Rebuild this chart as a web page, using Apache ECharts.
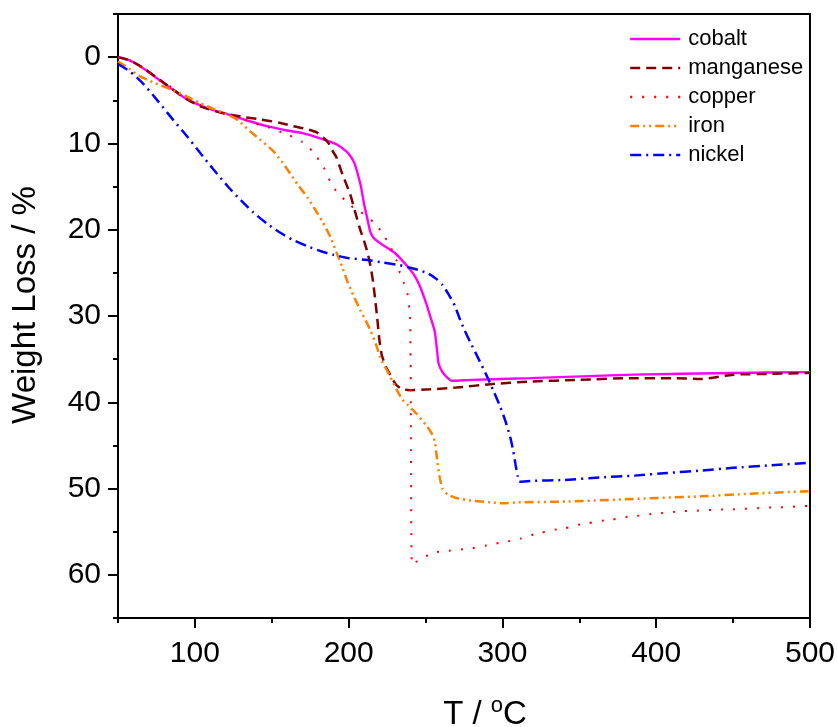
<!DOCTYPE html>
<html>
<head>
<meta charset="utf-8">
<script src="https://cdn.jsdelivr.net/npm/echarts@6/dist/echarts.min.js"></script>
<style>
  html, body { margin: 0; padding: 0; background: #fff; }
  #chart { width: 838px; height: 727px; }
</style>
</head>
<body>
<div id="chart"></div>
<script>
// Thermogravimetric curves: [temperature °C, weight loss %]
const cobalt = [[50,0],[55,0.2],[60,0.6],[68,1.5],[75,2.4],[85,3.7],[95,4.9],[108,5.9],[121,6.6],[135,7.4],[147,8.0],[160,8.5],[170,8.8],[183,9.5],[192,10.1],[199,11.0],[202,11.7],[204,12.4],[206,13.6],[208,15.0],[210,17.0],[212,18.6],[214,20.2],[216,20.9],[220,21.5],[225,22.1],[230,22.7],[234,23.4],[238,24.2],[242,25.1],[246,26.4],[250,28.3],[253,30.0],[256,31.8],[257.5,34.0],[258.5,35.5],[261,36.5],[264,37.1],[267,37.5],[280,37.4],[318,37.2],[385,36.8],[450,36.6],[500,36.5]];
const manganese = [[50,0],[58,0.4],[66,1.2],[80,3.0],[95,4.9],[105,5.8],[116,6.4],[130,6.9],[142,7.2],[155,7.6],[164,8.0],[172,8.3],[179,8.7],[184,9.4],[187,10.0],[190,11.0],[192,11.6],[196,13.6],[201,15.9],[204,17.8],[207,19.7],[210,21.3],[212.5,22.8],[214.5,24.5],[216,26.2],[217.5,28.5],[218.5,30.1],[220,32.8],[221.5,34.5],[224,35.8],[227,36.8],[231,38.0],[235,38.5],[240,38.6],[253,38.5],[270,38.3],[292,37.9],[318,37.6],[350,37.4],[385,37.2],[410,37.2],[429,37.3],[450,36.8],[475,36.7],[500,36.6]];
const copper = [[50,0],[58,0.4],[66,1.2],[80,3.0],[95,4.9],[110,6.0],[125,6.9],[142,7.8],[157,8.7],[170,9.8],[177,10.9],[183,12.6],[188,14.3],[192,15.5],[198,16.6],[203,17.4],[207,17.9],[216,19.0],[222,20.3],[227,22.0],[231,23.5],[233.5,25.0],[236,26.2],[238,27.2],[239.5,29.0],[240,30.0],[240.3,35.0],[240.5,45.0],[240.7,55.0],[241,58.8],[245,58.4],[255,57.4],[265,57.2],[277,57.0],[290,56.6],[298.5,56.3],[312,55.8],[324.5,55.1],[340,54.6],[355,54.0],[370,53.6],[385,53.2],[400,52.9],[418,52.6],[450,52.4],[475,52.2],[500,52.0]];
const iron = [[50,0.5],[57,1.3],[64,2.2],[74,3.0],[84,3.7],[94,4.5],[103,5.3],[112,6.0],[121,6.6],[128,7.3],[134,8.3],[142,9.5],[151,10.9],[157,12.2],[162,13.5],[167,14.8],[173,16.2],[178,17.6],[183,19.1],[188,20.8],[192,22.6],[196,24.4],[199,25.9],[203,27.6],[207.5,29.3],[211,30.5],[214,31.6],[218,33.4],[220.5,34.8],[224,36.0],[227,37.0],[232,38.8],[235,39.7],[238,40.2],[244,41.3],[251,42.8],[254,43.6],[256,44.5],[257.5,46.6],[259,48.5],[261,50.0],[264.5,50.7],[270,51.1],[280,51.4],[292,51.6],[300,51.7],[310,51.6],[342,51.5],[385,51.2],[429,50.9],[461,50.6],[500,50.3]];
const nickel = [[50,0.8],[58,1.7],[66,3.0],[76,5.1],[86,7.3],[95,9.2],[103,11.0],[112,13.0],[121,14.9],[130,16.6],[138,18.0],[147,19.3],[155,20.3],[164,21.2],[173,21.9],[182,22.5],[190,22.9],[200,23.3],[212,23.5],[222,23.8],[233,24.1],[240,24.4],[246,24.7],[252,25.1],[257,25.7],[261,26.4],[265,27.5],[269,28.8],[272,30.2],[275,31.5],[279,33.0],[284,34.8],[290,37.0],[294.5,38.8],[298.5,40.5],[302,42.2],[305,44.0],[307,45.6],[308.5,47.2],[310,48.6],[311,49.2],[320,49.1],[340,49.0],[364,48.7],[386,48.5],[407,48.2],[430,47.9],[450,47.6],[475,47.3],[500,47.0]];

const seriesNames = ['cobalt', 'manganese', 'copper', 'iron', 'nickel'];
const seriesData = [cobalt, manganese, copper, iron, nickel];

// Tick positions
const xMajorTicks = [100, 200, 300, 400, 500];
const xMinorTicks = [50, 150, 250, 350, 450];
const yMajorTicks = [0, 10, 20, 30, 40, 50, 60];
const yMinorTicks = [-5, 5, 15, 25, 35, 45, 55, 65];

const FONT = '"Liberation Sans", Arial, Helvetica, sans-serif';

const styles = [
  { color: '#ff00ff', width: 2.4, type: 'solid', monotone: false },
  { color: '#800000', width: 2.5, type: [10, 6], monotone: false },
  { color: '#ff0000', width: 2, type: [2, 10], monotone: true },
  { color: '#ff8000', width: 2.5, type: [9, 4, 2, 4, 2, 4], monotone: false },
  { color: '#0000ff', width: 2.5, type: [11, 5, 2, 5], monotone: false }
];

const chart = echarts.init(document.getElementById('chart'), null, { renderer: 'canvas' });

const commonX = { type: 'value', min: 50, max: 500, gridIndex: 0, splitLine: { show: false } };
const commonY = { type: 'value', min: -5, max: 65, inverse: true, gridIndex: 0, splitLine: { show: false } };

chart.setOption({
  animation: false,
  backgroundColor: '#ffffff',
  grid: { left: 118, right: 28, top: 14, bottom: 109, show: true, borderColor: '#000', borderWidth: 2 },
  xAxis: [
    Object.assign({}, commonX, {
      position: 'bottom',
      axisLine: { show: true, onZero: false, lineStyle: { color: '#000', width: 2 } },
      axisTick: { show: true, inside: false, length: 10, customValues: xMajorTicks, lineStyle: { color: '#000', width: 2 } },
      axisLabel: { show: true, customValues: xMajorTicks, margin: 21, fontSize: 30, color: '#000', fontFamily: FONT }
    }),
    Object.assign({}, commonX, {
      position: 'bottom',
      axisLine: { show: false, onZero: false },
      axisTick: { show: true, inside: false, length: 5, customValues: xMinorTicks, lineStyle: { color: '#000', width: 2 } },
      axisLabel: { show: false }
    })
  ],
  yAxis: [
    Object.assign({}, commonY, {
      position: 'left',
      axisLine: { show: true, onZero: false, lineStyle: { color: '#000', width: 2 } },
      axisTick: { show: true, inside: false, length: 10, customValues: yMajorTicks, lineStyle: { color: '#000', width: 2 } },
      axisLabel: { show: true, customValues: yMajorTicks, margin: 17, fontSize: 30, color: '#000', fontFamily: FONT }
    }),
    Object.assign({}, commonY, {
      position: 'left',
      axisLine: { show: false, onZero: false },
      axisTick: { show: true, inside: false, length: 5, customValues: yMinorTicks, lineStyle: { color: '#000', width: 2 } },
      axisLabel: { show: false }
    })
  ],
  legend: {
    orient: 'vertical',
    left: 624,
    top: 23,
    itemWidth: 50,
    itemHeight: 14,
    itemGap: 7,
    data: seriesNames,
    itemStyle: { opacity: 0 },
    lineStyle: { width: 2.4 },
    textStyle: { fontSize: 22, lineHeight: 22, color: '#000', fontFamily: FONT, padding: [0, 0, 0, 3] }
  },
  graphic: [
    {
      type: 'text',
      x: 26, y: 305,
      rotation: Math.PI / 2,
      style: { text: 'Weight Loss / %', fontSize: 33, fontFamily: FONT, fill: '#000', align: 'center', verticalAlign: 'middle' }
    },
    {
      type: 'text',
      x: 485, y: 713,
      style: {
        text: '{a|T / }{s|o}{a|C}',
        align: 'center', verticalAlign: 'middle',
        rich: {
          a: { fontSize: 33, fontFamily: FONT, fill: '#000', lineHeight: 36, verticalAlign: 'bottom' },
          s: { fontSize: 22, fontFamily: FONT, fill: '#000', lineHeight: 36, verticalAlign: 'top' }
        }
      }
    }
  ],
  series: seriesNames.map((name, i) => ({
    name: name,
    type: 'line',
    xAxisIndex: 0,
    yAxisIndex: 0,
    data: seriesData[i],
    showSymbol: false,
    symbol: 'none',
    smooth: 0.2,
    smoothMonotone: styles[i].monotone ? 'x' : undefined,
    clip: true,
    lineStyle: { color: styles[i].color, width: styles[i].width, type: styles[i].type },
    itemStyle: { color: styles[i].color }
  }))
});
</script>
</body>
</html>
